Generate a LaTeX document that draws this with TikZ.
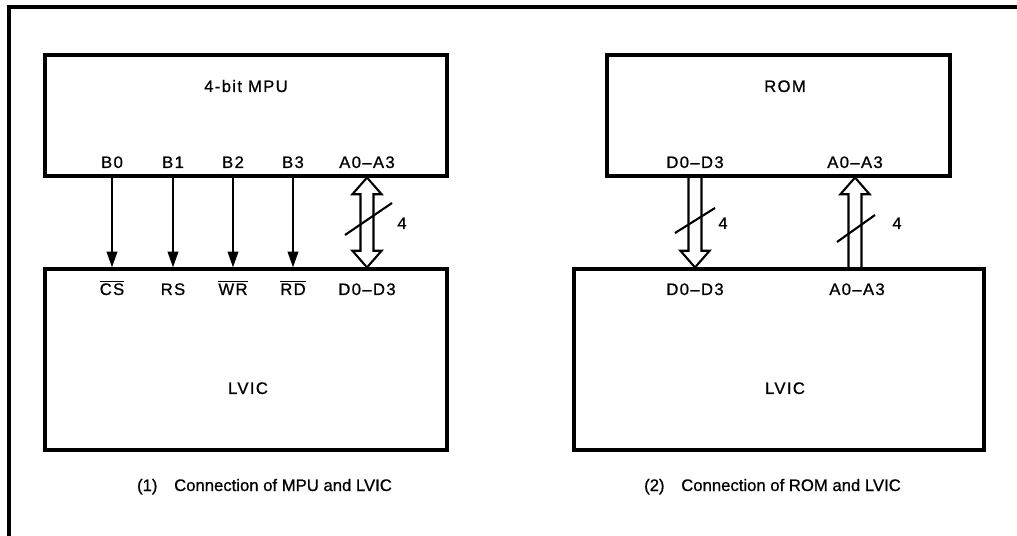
\documentclass[tikz,border=0pt]{standalone}
\usepackage{fontspec}
\setmainfont[FakeBold=0.8]{Liberation Sans}
\newfontfamily\pinfont[LetterSpace=8, FakeBold=0.8]{Liberation Sans}
\usetikzlibrary{arrows.meta, calc}

\tikzset{
  chip/.style={draw, line width=1.8pt, inner sep=0pt},
  pintext/.style={anchor=base, inner sep=0pt, font=\pinfont\fontsize{9.5}{11}\selectfont},
  captext/.style={anchor=base, inner sep=0pt, font=\fontsize{9.5}{11}\selectfont},
  sig/.style={line width=1.1pt, -{Triangle[length=9pt, width=6pt]}},
  bus/.style={line width=1.2pt, line join=miter},
  busto/.style={to path={let \p1=(\tikztostart), \p2=(\tikztotarget),
      \p3=($(\p2)!9.5pt!(\p1)$) in
      (\x1-3.7pt,\y1) -- (\x1-3.7pt,\y3) -- (\x1-8.3pt,\y3) -- (\p2)
      -- (\x1+8.3pt,\y3) -- (\x1+3.7pt,\y3) -- (\x1+3.7pt,\y1)}},
  busboth/.style={to path={let \p1=(\tikztostart), \p2=(\tikztotarget),
      \p3=($(\p2)!9.5pt!(\p1)$), \p4=($(\p1)!9.5pt!(\p2)$) in
      (\p1) -- (\x1+8.3pt,\y4) -- (\x1+3.7pt,\y4) -- (\x1+3.7pt,\y3)
      -- (\x1+8.3pt,\y3) -- (\p2) -- (\x1-8.3pt,\y3) -- (\x1-3.7pt,\y3)
      -- (\x1-3.7pt,\y4) -- (\x1-8.3pt,\y4) -- cycle}}
}

\begin{document}
\begin{tikzpicture}[x=0.02cm, y=-0.02cm]
	\useasboundingbox (0,0) rectangle (1017,536);
	% frame
	\draw[line width=1.8pt] (1017,7) -- (9,7) -- (9,536);

	% (1) MPU and LVIC
	\node[chip, minimum width=8.04cm, minimum height=2.42cm] (mpu) at (246,115.5) {};
	\node[chip, minimum width=8.04cm, minimum height=3.62cm] (lvica) at (246,359.5) {};
	\node[pintext] (mpuname) at (246,92) {4-bit MPU};
	\node[pintext] (lvicaname) at (248,394) {LVIC};
	\node[pintext] (b0) at (112,168) {B0};
	\node[pintext] (b1) at (173,168) {B1};
	\node[pintext] (b2) at (233,168) {B2};
	\node[pintext] (b3) at (293,168) {B3};
	\node[pintext] (mpuaddr) at (367,168) {A0\textendash A3};
	\node[pintext] (cs) at (112,295) {$\overline{\hbox{CS}}$};
	\node[pintext] (rs) at (173,295) {RS};
	\node[pintext] (wr) at (233,295) {$\overline{\hbox{WR}}$};
	\node[pintext] (rd) at (293,295) {$\overline{\hbox{RD}}$};
	\node[pintext] (lvicadata) at (367,295) {D0\textendash D3};

	\draw[sig] (b0 |- mpu.south) -- (cs |- lvica.north);
	\draw[sig] (b1 |- mpu.south) -- (rs |- lvica.north);
	\draw[sig] (b2 |- mpu.south) -- (wr |- lvica.north);
	\draw[sig] (b3 |- mpu.south) -- (rd |- lvica.north);
	\draw[bus] (mpuaddr |- mpu.south) to[busboth] (lvicadata |- lvica.north);
	\draw[line width=1.2pt] (345,235) -- (392,203);
	\node[pintext] (widtha) at (402,229) {4};

	\node[captext] (capa) at (264.5,491) {(1)\quad Connection of MPU and LVIC};

	% (2) ROM and LVIC
	\node[chip, minimum width=6.86cm, minimum height=2.42cm] (rom) at (778.5,115.5) {};
	\node[chip, minimum width=8.2cm, minimum height=3.62cm] (lvicb) at (779,359.5) {};
	\node[pintext] (romname) at (785,92) {ROM};
	\node[pintext] (lvicbname) at (785,394) {LVIC};
	\node[pintext] (romdata) at (695,168) {D0\textendash D3};
	\node[pintext] (romaddr) at (855,168) {A0\textendash A3};
	\node[pintext] (lvicbdata) at (695,295) {D0\textendash D3};
	\node[pintext] (lvicbaddr) at (857,295) {A0\textendash A3};

	\draw[bus] (romdata |- rom.south) to[busto] (romdata |- lvicb.north);
	\draw[bus] (romaddr |- lvicb.north) to[busto] (romaddr |- rom.south);
	\draw[line width=1.2pt] (675,233) -- (715,208);
	\node[pintext] (widthb) at (723,229) {4};
	\draw[line width=1.2pt] (837,242) -- (875,215);
	\node[pintext] (widthc) at (897,229) {4};

	\node[captext] (capb) at (772.5,491) {(2)\quad Connection of ROM and LVIC};
\end{tikzpicture}
\end{document}
